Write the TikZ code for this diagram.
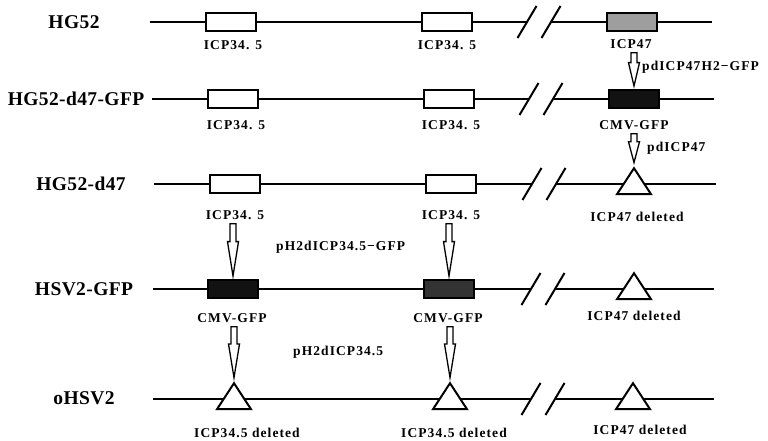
\documentclass[tikz,border=0pt]{standalone}
\usepackage{fontspec}
\setmainfont{Liberation Serif}
\newfontfamily\strainfont[LetterSpace=2]{Liberation Serif}
\newfontfamily\genefont[LetterSpace=8]{Liberation Serif}
\usetikzlibrary{shapes.geometric}
\usetikzlibrary{calc}
\tikzset{
    backbone/.style = {line width=1.8pt,draw=black},
    slash/.style = {line width=2pt,draw=black},
    genebox/.style = {rectangle, line width=2pt, draw=black, minimum width=50pt, minimum height=18pt, inner sep=0pt, fill=white},
    geneboxg/.style = {genebox, fill=black!38},
    geneboxk/.style = {genebox, fill=black!93},
    geneboxd/.style = {genebox, fill=black!80},
    delnode/.style = {isosceles triangle, isosceles triangle stretches, shape border rotate=90, line width=2pt, draw=black, fill=white, minimum width=34pt, minimum height=26pt, inner sep=0pt},
    strainlbl/.style = {font=\strainfont\bfseries\fontsize{19.5}{21}\selectfont, inner sep=0pt},
    genelbl/.style = {font=\genefont\bfseries\fontsize{13.5}{15}\selectfont, inner sep=0pt},
    steplbl/.style = {genelbl, anchor=west},
    harrow/.style = {line width=1.3pt, draw=black, fill=white, line join=miter}, % hollow block arrow
}
% hollow arrow from a label down to a box or a triangle
\newcommand{\hollowarrow}[2]{%
  \path[harrow] let \p1=(#1), \p2=(#2), \n1={0.58*(\y1-\y2)} in
    (\x2-3pt,\y1-4pt) -- (\x2+3pt,\y1-4pt) -- (\x2+3pt,{\y2+3pt+\n1}) -- (\x2+5.5pt,{\y2+3pt+\n1})
    -- (\x2,\y2+3pt) -- (\x2-5.5pt,{\y2+3pt+\n1}) -- (\x2-3pt,{\y2+3pt+\n1}) -- cycle;}
% the two slashes of a break in the genome line
\newcommand{\breakmark}[2]{%
  \draw[slash] (#1-9.5,#2+16) -- (#1+9.5,#2-16);
  \draw[slash] (#1+14.5,#2+16) -- (#1+33.5,#2-16);}

\begin{document}
\begin{tikzpicture}[x=1pt,y=-1pt]
\useasboundingbox (0,0) rectangle (768,441);
%
% HG52
\node[strainlbl] at (74,22) (r1) {HG52};
\coordinate (s1) at (150,22);
\coordinate (e1) at (712,22);
\draw[backbone] (s1) -- (527,22);
\draw[backbone] (551,22) -- (e1);
\breakmark{527}{22}
\node[genebox] at (231,22) (b11) {};
\node[genebox] at (447,22) (b12) {};
\node[geneboxg] at (632,22) (b13) {};
\node[genelbl] at (233,45) (l11) {ICP34. 5};
\node[genelbl] at (447,45) (l12) {ICP34. 5};
\node[genelbl] at (631,44) (l13) {ICP47};
%
% HG52-d47-GFP
\node[strainlbl] at (76,99) (r2) {HG52-d47-GFP};
\coordinate (s2) at (152,99);
\coordinate (e2) at (714,99);
\draw[backbone] (s2) -- (529,99);
\draw[backbone] (553,99) -- (e2);
\breakmark{529}{99}
\node[genebox] at (233,99) (b21) {};
\node[genebox] at (449,99) (b22) {};
\node[geneboxk] at (634,99) (b23) {};
\node[genelbl] at (236,125) (l21) {ICP34. 5};
\node[genelbl] at (451,125) (l22) {ICP34. 5};
\node[genelbl] at (634,125) (l23) {CMV-GFP};
%
% HG52-d47
\node[strainlbl] at (81,184) (r3) {HG52-d47};
\coordinate (s3) at (154,184);
\coordinate (e3) at (716,184);
\draw[backbone] (s3) -- (532,184);
\draw[backbone] (556,184) -- (e3);
\breakmark{532}{184}
\node[genebox] at (235,184) (b31) {};
\node[genebox] at (451,184) (b32) {};
\node[delnode] at (634,185) (t33) {};
\node[genelbl] at (235,215) (l31) {ICP34. 5};
\node[genelbl] at (451,215) (l32) {ICP34. 5};
\node[genelbl] at (637,217) (l33) {ICP47 deleted};
%
% HSV2-GFP
\node[strainlbl] at (84,289) (r4) {HSV2-GFP};
\coordinate (s4) at (153,289);
\coordinate (e4) at (714,289);
\draw[backbone] (s4) -- (531,289);
\draw[backbone] (555,289) -- (e4);
\breakmark{531}{289}
\node[geneboxk] at (233,289) (b41) {};
\node[geneboxd] at (449,289) (b42) {};
\node[delnode] at (634,290) (t43) {};
\node[genelbl] at (232,318) (l41) {CMV-GFP};
\node[genelbl] at (448,318) (l42) {CMV-GFP};
\node[genelbl] at (634,316) (l43) {ICP47 deleted};
%
% oHSV2
\node[strainlbl] at (84,398) (r5) {oHSV2};
\coordinate (s5) at (153,399);
\coordinate (e5) at (714,399);
\draw[backbone] (s5) -- (531,399);
\draw[backbone] (555,399) -- (e5);
\breakmark{531}{399}
\node[delnode] at (234,400) (t51) {};
\node[delnode] at (450,400) (t52) {};
\node[delnode] at (633,400) (t53) {};
\node[genelbl] at (247,433) (l51) {ICP34.5 deleted};
\node[genelbl] at (454,433) (l52) {ICP34.5 deleted};
\node[genelbl] at (640,430) (l53) {ICP47 deleted};
%
% construction steps
\hollowarrow{l13.south}{b23.north}
\hollowarrow{l23.south}{t33.apex}
\hollowarrow{l31.south}{b41.north}
\hollowarrow{l32.south}{b42.north}
\hollowarrow{l41.south}{t51.apex}
\hollowarrow{l42.south}{t52.apex}
\node[steplbl] at (642,67) (p1) {pdICP47H2−GFP};
\node[steplbl] at (647,148) (p2) {pdICP47};
\node[steplbl] at (276,247) (p3) {pH2dICP34.5−GFP};
\node[steplbl] at (293,352) (p4) {pH2dICP34.5};

\end{tikzpicture}
\end{document}
